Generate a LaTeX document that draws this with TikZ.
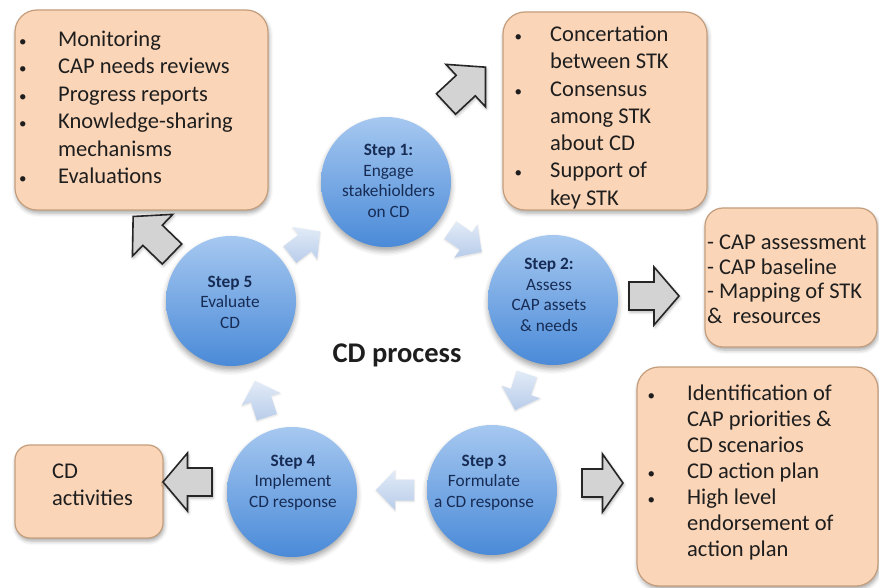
\documentclass[tikz,border=0pt]{standalone}
\usepackage{fontspec}
\setmainfont{Carlito}
\usetikzlibrary{shadows.blur}

\definecolor{peach}{HTML}{FBD5B7}
\definecolor{peachline}{HTML}{C49E7C}
\definecolor{navy}{HTML}{172C55}
\definecolor{ink}{HTML}{1E1E1E}
\definecolor{arrowgray}{HTML}{D3D3D3}
\definecolor{balltop}{HTML}{A6C8F0}
\definecolor{ballbot}{HTML}{4A8AD8}
\definecolor{paletop}{HTML}{E2EBF7}
\definecolor{palebot}{HTML}{B8CCEA}

\tikzset{
  ball/.style={circle, minimum size=130pt, inner sep=0pt,
    top color=balltop, bottom color=ballbot,
    blur shadow={shadow xshift=0pt, shadow yshift=-4pt, shadow opacity=35, shadow blur radius=5pt}},
  balltext/.style={align=center, text=navy, inner sep=0pt,
    font=\fontsize{17.3}{20.5}\selectfont},
  notebox/.style={draw=peachline, line width=1.2pt, fill=peach, rounded corners=22pt,
    blur shadow={shadow xshift=1pt, shadow yshift=-3pt, shadow opacity=35, shadow blur radius=4pt}},
  notetext/.style={anchor=base west, text=ink, inner sep=0pt},
  bigarrow/.style={draw=black!85, line width=1.6pt, fill=arrowgray, line join=miter,
    blur shadow={shadow xshift=1pt, shadow yshift=-2pt, shadow opacity=30, shadow blur radius=3pt}},
  palearrow/.style={top color=paletop, bottom color=palebot, draw=none,
    blur shadow={shadow xshift=0pt, shadow yshift=-1pt, shadow opacity=15, shadow blur radius=2pt}}
}

% small list bullet
\newcommand{\dotmark}{{\fontsize{15}{15}\selectfont\textbullet}}

% gray outlined block arrow: tail centre (#1,#2), direction #3, length #4
\newcommand{\graydart}[4]{%
  \begin{scope}[shift={(#1,#2)}, rotate=#3]
    \path[bigarrow] (0,-14) -- ({0.5*#4},-14) -- ({0.5*#4},-29) -- (#4,0)
      -- ({0.5*#4},29) -- ({0.5*#4},14) -- (0,14) -- cycle;
  \end{scope}}

% pale blue block arrow on the cycle: centre (#1,#2), direction #3
\newcommand{\paledart}[3]{%
  \begin{scope}[shift={(#1,#2)}, rotate=#3]
    \path[palearrow] (-19,-10.5) -- (0,-10.5) -- (0,-20) -- (19,0) -- (0,20)
      -- (0,10.5) -- (-19,10.5) -- cycle;
  \end{scope}}

\begin{document}
\begin{tikzpicture}[x=1pt, y=-1pt]
  \useasboundingbox (0,0) rectangle (879,588);

  % step circles
  \node[ball] (s1) at (386,182) {};
  \node[ball] (s2) at (553,300) {};
  \node[ball] (s3) at (492,490) {};
  \node[ball] (s4) at (292,492) {};
  \node[ball] (s5) at (231,301) {};

  \node[balltext] (t1) at (388.5,181) {\textbf{Step 1:}\\Engage\\stakehiolders\\on CD};
  \node[balltext] (t2) at (549,295) {\textbf{Step 2:}\\Assess\\CAP assets\\\& needs};
  \node[balltext] (t3) at (484,482.5) {\textbf{Step 3}\\Formulate\\a CD response};
  \node[balltext] (t4) at (293,482.5) {\textbf{Step 4}\\Implement\\CD response};
  \node[balltext] (t5) at (230,302) {\textbf{Step 5}\\Evaluate\\CD};

  \node[text=ink, inner sep=0pt, font=\fontsize{28.5}{33}\selectfont\bfseries] (title) at (397,355) {CD process};

  % cycle arrows
  \paledart{305}{243}{37.5}
  \paledart{466}{241}{-35}
  \paledart{521}{392}{-108}
  \paledart{395}{490}{180}
  \paledart{261}{399}{108}

  % note boxes
  \node[notebox, minimum width=253pt, minimum height=200pt] (nA) at (141.5,110) {};
  \node[notebox, minimum width=204pt, minimum height=198pt] (nB) at (605,111) {};
  \node[notebox, rounded corners=18pt, minimum width=172pt, minimum height=139pt] (nC) at (791,277.5) {};
  \node[notebox, minimum width=241pt, minimum height=219pt] (nD) at (757.5,476.5) {};
  \node[notebox, rounded corners=15pt, minimum width=148pt, minimum height=93pt] (nE) at (89,491.5) {};

  \node[notetext] (xA) at (19,46.5) {\fontsize{22.5}{27.5}\selectfont
    \begin{tabular}[t]{@{}p{39pt}@{}l@{}}
      \dotmark & Monitoring\\
      \dotmark & CAP needs reviews\\
      \dotmark & Progress reports\\
      \dotmark & Knowledge-sharing\\
               & mechanisms\\
      \dotmark & Evaluations
    \end{tabular}};

  \node[notetext] (xB) at (514.5,41.5) {\fontsize{22.5}{27.3}\selectfont
    \begin{tabular}[t]{@{}p{35.5pt}@{}l@{}}
      \dotmark & Concertation\\
               & between STK\\
      \dotmark & Consensus\\
               & among STK\\
               & about CD\\
      \dotmark & Support of\\
               & key STK
    \end{tabular}};

  \node[notetext] (xC) at (707,250) {\fontsize{22.5}{24.5}\selectfont
    \begin{tabular}[t]{@{}l@{}}
      - CAP assessment\\
      - CAP baseline\\
      - Mapping of STK\\
      \&\ \ resources
    \end{tabular}};

  \node[notetext] (xD) at (647.5,400) {\fontsize{22.5}{26.1}\selectfont
    \begin{tabular}[t]{@{}p{39.5pt}@{}l@{}}
      \dotmark & Identification of\\
               & CAP priorities \&\\
               & CD scenarios\\
      \dotmark & CD action plan\\
      \dotmark & High level\\
               & endorsement of\\
               & action plan
    \end{tabular}};

  \node[notetext] (xE) at (52,478) {\fontsize{22.5}{27}\selectfont
    \begin{tabular}[t]{@{}l@{}}
      CD\\
      activities
    \end{tabular}};

  % arrows from the steps to their notes
  \graydart{446}{104}{43}{54}
  \graydart{629}{296}{0}{50}
  \graydart{582}{483}{0}{41}
  \graydart{212}{482}{180}{49}
  \graydart{172}{254}{136}{54}
\end{tikzpicture}
\end{document}
